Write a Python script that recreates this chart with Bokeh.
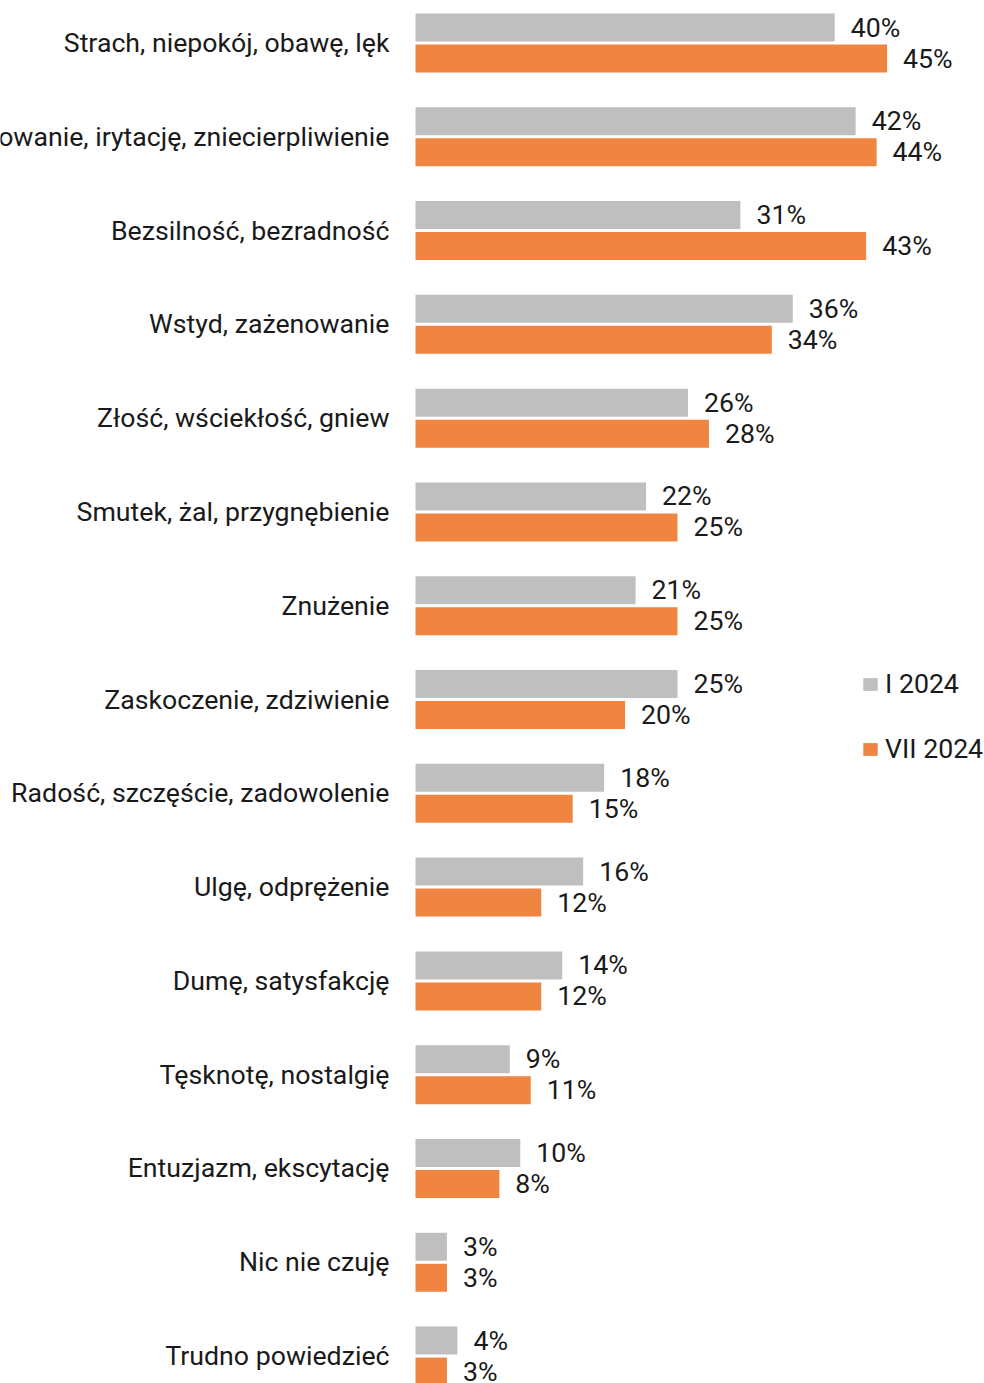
from bokeh.plotting import figure
from bokeh.models import ColumnDataSource, Range1d, Legend, LegendItem
from bokeh.transform import dodge
from bokeh.core.properties import value
from bokeh.embed import file_html
from bokeh.resources import INLINE

categories = [
    "Strach, niepokój, obawę, lęk",
    "Zdenerwowanie, irytację, zniecierpliwienie",
    "Bezsilność, bezradność",
    "Wstyd, zażenowanie",
    "Złość, wściekłość, gniew",
    "Smutek, żal, przygnębienie",
    "Znużenie",
    "Zaskoczenie, zdziwienie",
    "Radość, szczęście, zadowolenie",
    "Ulgę, odprężenie",
    "Dumę, satysfakcję",
    "Tęsknotę, nostalgię",
    "Entuzjazm, ekscytację",
    "Nic nie czuję",
    "Trudno powiedzieć",
]
i_2024 = [40, 42, 31, 36, 26, 22, 21, 25, 18, 16, 14, 9, 10, 3, 4]
vii_2024 = [45, 44, 43, 34, 28, 25, 25, 20, 15, 12, 12, 11, 8, 3, 3]
series_names = ["I 2024", "VII 2024"]

GRAY = "#bfbfbf"
ORANGE = "#f08541"
FONT = "Roboto"
FS = "26.7px"
TXT = "#1a1a1a"

idx = list(range(len(categories)))
src = ColumnDataSource(dict(
    idx=idx, cat=categories,
    a=i_2024, b=vii_2024,
    a_lbl=[f"{v}%" for v in i_2024],
    b_lbl=[f"{v}%" for v in vii_2024],
    zero=[0] * len(categories),
))

W, H = 984, 1383
s = 10.48           # px per percent
x0_px = 415          # px of 0 %
step = 93.79         # px per category
c0_px = 42.5         # px of first category centre

p = figure(width=W, height=H, output_backend="svg", toolbar_location=None,
           x_axis_type=None, y_axis_type=None, min_border=0,
           x_range=Range1d(-x0_px / s, (W - x0_px) / s),
           y_range=Range1d((H - c0_px) / step, -c0_px / step))
p.outline_line_color = None
p.grid.visible = False
p.background_fill_color = "white"
p.border_fill_color = "white"

bh = 28 / step
off = 15.5 / step

ra = p.hbar(y=dodge("idx", -off), left=0, right="a", height=bh, source=src,
            fill_color=GRAY, line_color=None)
rb = p.hbar(y=dodge("idx", off), left=0, right="b", height=bh, source=src,
            fill_color=ORANGE, line_color=None)

p.text(x="a", y=dodge("idx", -off), text="a_lbl", source=src, x_offset=16,
       text_align="left", text_baseline="middle", text_font=value(FONT),
       text_font_size=FS, text_color=TXT)
p.text(x="b", y=dodge("idx", off), text="b_lbl", source=src, x_offset=16,
       text_align="left", text_baseline="middle", text_font=value(FONT),
       text_font_size=FS, text_color=TXT)

p.text(x="zero", y="idx", text="cat", source=src, x_offset=-26,
       text_align="right", text_baseline="middle", text_font=value(FONT),
       text_font_size=FS, text_color=TXT)

legend = Legend(items=[LegendItem(label=series_names[0], renderers=[ra]),
                       LegendItem(label=series_names[1], renderers=[rb])],
                location=(861, 617), orientation="vertical",
                glyph_width=18, glyph_height=16, label_standoff=6,
                label_height=34, spacing=31, padding=0, margin=0,
                border_line_color=None, background_fill_alpha=0,
                label_text_font=FONT, label_text_font_size=FS,
                label_text_color=TXT)
p.add_layout(legend, "center")

open("out.html", "w").write(file_html(p, INLINE))
